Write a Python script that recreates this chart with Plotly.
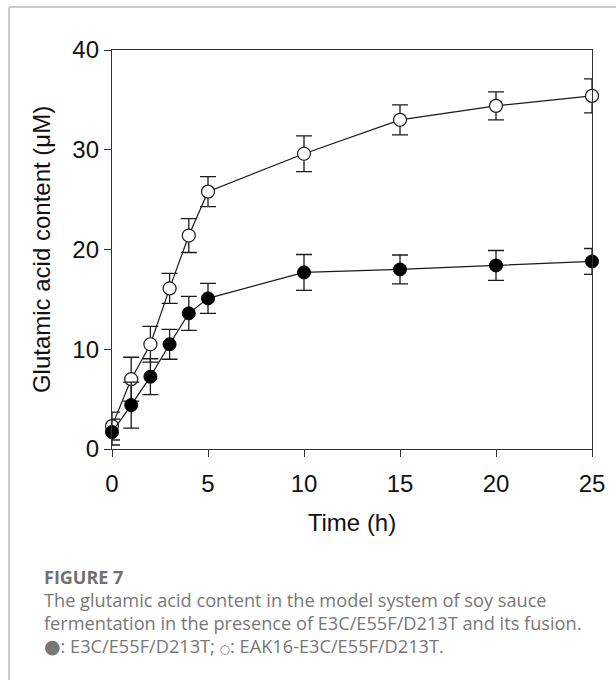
import plotly.graph_objects as go

# ---- data ----
time_h = [0, 1, 2, 3, 4, 5, 10, 15, 20, 25]
eak16_mean = [2.3, 7.0, 10.5, 16.1, 21.4, 25.8, 29.6, 33.0, 34.4, 35.4]
eak16_err = [1.4, 2.2, 1.8, 1.5, 1.7, 1.5, 1.8, 1.5, 1.4, 1.7]
mut_mean = [1.7, 4.4, 7.25, 10.5, 13.6, 15.1, 17.7, 18.0, 18.4, 18.8]
mut_err = [1.3, 2.3, 1.8, 1.5, 1.7, 1.5, 1.8, 1.45, 1.5, 1.3]
x_ticks = [0, 5, 10, 15, 20, 25]
y_ticks = [0, 10, 20, 30, 40]

W, H = 616, 680
L, R, T, B = 112, 24, 50, 231
PW, PH = W - L - R, H - T - B


def px(xp):
    return (xp - L) / PW


def py(yp):
    return (H - B - yp) / PH


AX = "#333333"
fig = go.Figure()

fig.add_trace(go.Scatter(
    x=time_h, y=eak16_mean, mode="lines+markers",
    line=dict(color="#1a1a1a", width=1.2),
    marker=dict(symbol="circle", size=13, color="white",
                line=dict(color="#1a1a1a", width=1.2)),
    error_y=dict(type="data", array=eak16_err, visible=True,
                 color="#1a1a1a", thickness=1.3, width=8),
    showlegend=False, cliponaxis=False,
))
fig.add_trace(go.Scatter(
    x=time_h, y=mut_mean, mode="lines+markers",
    line=dict(color="#1a1a1a", width=1.2),
    marker=dict(symbol="circle", size=13, color="black",
                line=dict(color="black", width=1)),
    error_y=dict(type="data", array=mut_err, visible=True,
                 color="#1a1a1a", thickness=1.3, width=8),
    showlegend=False, cliponaxis=False,
))

axis_font = dict(family="Liberation Sans, Arial, sans-serif", size=24, color="#111111")

fig.update_layout(
    width=W, height=H,
    margin=dict(l=L, r=R, t=T, b=B, autoexpand=False),
    paper_bgcolor="white", plot_bgcolor="white",
    xaxis=dict(range=[0, 25], tickvals=x_ticks, ticks="outside", ticklen=7,
               tickcolor=AX, tickwidth=1.3, showline=True, linecolor=AX,
               linewidth=1.3, mirror=True, showgrid=False, zeroline=False,
               tickfont=axis_font, ticklabelstandoff=6,
               title=dict(text="Time (h)", font=axis_font, standoff=18)),
    yaxis=dict(range=[0, 40], tickvals=y_ticks, ticks="outside", ticklen=7,
               tickcolor=AX, tickwidth=1.3, showline=True, linecolor=AX,
               linewidth=1.3, mirror=True, showgrid=False, zeroline=False,
               tickfont=axis_font,
               title=dict(text="Glutamic acid content (\u03bcM)", font=axis_font,
                          standoff=14)),
    font=dict(family="Liberation Sans, Arial, sans-serif"),
)

cap_family = "Open Sans, Lato, sans-serif"
fig.add_annotation(x=px(42), y=py(577), xref="paper", yref="paper",
                   text="<b>FIGURE 7</b>", showarrow=False, xanchor="left",
                   yanchor="middle", font=dict(family=cap_family,
                                               size=18, color="#707070"))
cap_lines = [
    "The glutamic acid content in the model system of soy sauce",
    "fermentation in the presence of E3C/E55F/D213T and its fusion.",
    "<span style=\"font-family:DejaVu Sans;font-size:19px\">\u25cf</span>: "
    "E3C/E55F/D213T; "
    "<span style=\"font-family:DejaVu Sans;font-size:12px\">\u25cb</span>: "
    "EAK16-E3C/E55F/D213T.",
]
for i, line in enumerate(cap_lines):
    fig.add_annotation(x=px(42), y=py(600 + 23 * i), xref="paper", yref="paper",
                       text=line, showarrow=False, xanchor="left",
                       yanchor="middle",
                       font=dict(family=cap_family, size=18.2, color="#777777"))

# light gray frame edges (left and top) around the figure
fig.add_shape(type="line", xref="paper", yref="paper",
              x0=px(9), x1=px(9), y0=py(H + 5), y1=py(7),
              line=dict(color="#cccccc", width=2), layer="below")
fig.add_shape(type="line", xref="paper", yref="paper",
              x0=px(9), x1=px(W + 5), y0=py(7), y1=py(7),
              line=dict(color="#cccccc", width=2), layer="below")

fig.write_html(
    "out.html",
    config={"displayModeBar": False},
    post_script="document.body.style.margin='0';document.body.style.overflow='hidden';",
)
